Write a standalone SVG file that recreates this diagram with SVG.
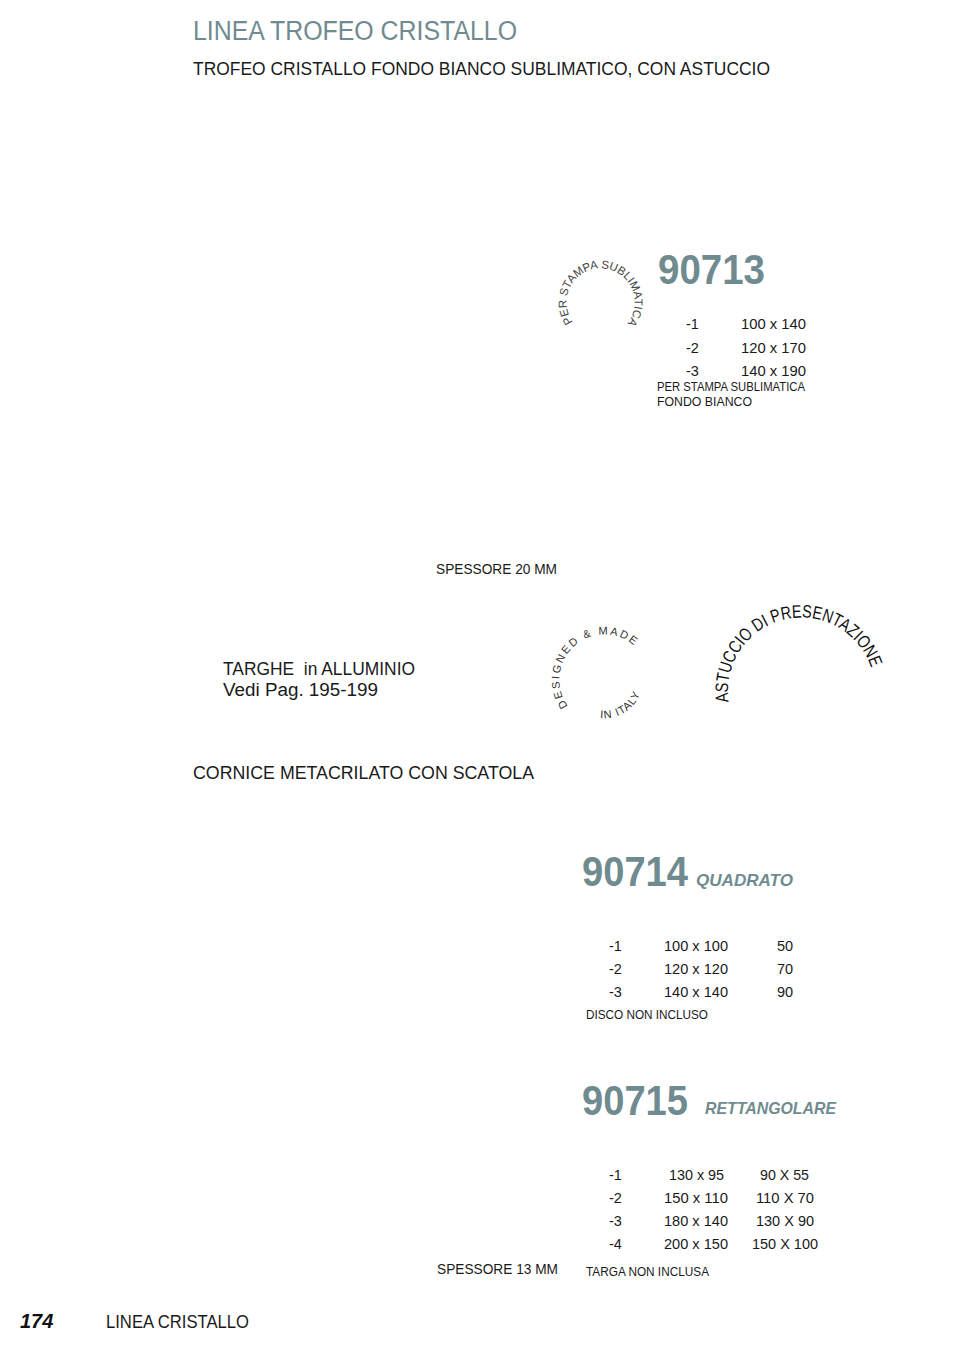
<svg xmlns="http://www.w3.org/2000/svg" width="970" height="1350" viewBox="0 0 970 1350">
<style>
text{font-family:"Liberation Sans","DejaVu Sans",sans-serif;fill:#1a1a1a}
.title{font-size:27px;fill:#6f8b91}
.sub{font-size:18px}
.code{font-size:43px;font-weight:bold;fill:#6f8b90}
.kind{font-size:17px;font-weight:bold;font-style:italic;fill:#6f8b90}
.row{font-size:14.5px}
.note{font-size:12px}
.arc{font-size:11.5px;fill:#444}
.big{font-size:18px}
</style>
<defs>
<path id="p1" d="M 572.8,322 A 34 34 0 1 1 613,334"/>
<path id="p2" d="M 568,706 A 38 38 0 1 1 641,653"/>
<path id="p3" d="M 600,718 A 38 38 0 0 0 640,694"/>
<path id="p4" d="M 728.7,702 A 72 72 0 1 1 874,680"/>
</defs>
<rect width="970" height="1350" fill="#fff"/>
<g id="header">
<text class="title" x="193" y="40" textLength="324" lengthAdjust="spacingAndGlyphs">LINEA TROFEO CRISTALLO</text>
<text class="sub" x="193" y="75" textLength="577" lengthAdjust="spacingAndGlyphs">TROFEO CRISTALLO FONDO BIANCO SUBLIMATICO, CON ASTUCCIO</text>
</g>
<g id="p90713">
<text class="arc"><textPath href="#p1" textLength="150" lengthAdjust="spacingAndGlyphs">PER STAMPA SUBLIMATICA</textPath></text>
<text class="code" x="658" y="284" textLength="107" lengthAdjust="spacingAndGlyphs">90713</text>
<text class="row" x="686" y="329">-1</text><text class="row" x="741" y="329" textLength="65" lengthAdjust="spacingAndGlyphs">100 x 140</text>
<text class="row" x="686" y="353">-2</text><text class="row" x="741" y="353" textLength="65" lengthAdjust="spacingAndGlyphs">120 x 170</text>
<text class="row" x="686" y="376">-3</text><text class="row" x="741" y="376" textLength="65" lengthAdjust="spacingAndGlyphs">140 x 190</text>
<text class="note" x="657" y="391" textLength="148" lengthAdjust="spacingAndGlyphs">PER STAMPA SUBLIMATICA</text>
<text class="note" x="657" y="406" textLength="95" lengthAdjust="spacingAndGlyphs">FONDO BIANCO</text>
<text class="row" x="436" y="574" textLength="121" lengthAdjust="spacingAndGlyphs">SPESSORE 20 MM</text>
</g>
<g id="targhe">
<text class="big" x="223" y="675" textLength="192" lengthAdjust="spacingAndGlyphs" xml:space="preserve">TARGHE  in ALLUMINIO</text>
<text class="big" x="223" y="696" textLength="155" lengthAdjust="spacingAndGlyphs">Vedi Pag. 195-199</text>
</g>
<g id="stamps">
<text style="font-size:11px;letter-spacing:2px;fill:#333"><textPath href="#p2">DESIGNED &amp; MADE</textPath></text>
<text style="font-size:11px;letter-spacing:1px;fill:#333"><textPath href="#p3">IN ITALY</textPath></text>
<text style="font-size:18px;fill:#111"><textPath href="#p4" textLength="218" lengthAdjust="spacingAndGlyphs">ASTUCCIO DI PRESENTAZIONE</textPath></text>
</g>
<g id="p90714">
<text class="big" x="193" y="779" textLength="341" lengthAdjust="spacingAndGlyphs">CORNICE METACRILATO CON SCATOLA</text>
<text class="code" x="582" y="886" textLength="106" lengthAdjust="spacingAndGlyphs">90714</text>
<text class="kind" x="696" y="886" textLength="97" lengthAdjust="spacingAndGlyphs">QUADRATO</text>
<text class="row" x="609" y="951">-1</text><text class="row" x="664" y="951" textLength="64" lengthAdjust="spacingAndGlyphs">100 x 100</text><text class="row" x="777" y="951">50</text>
<text class="row" x="609" y="974">-2</text><text class="row" x="664" y="974" textLength="64" lengthAdjust="spacingAndGlyphs">120 x 120</text><text class="row" x="777" y="974">70</text>
<text class="row" x="609" y="997">-3</text><text class="row" x="664" y="997" textLength="64" lengthAdjust="spacingAndGlyphs">140 x 140</text><text class="row" x="777" y="997">90</text>
<text class="note" x="586" y="1019" textLength="122" lengthAdjust="spacingAndGlyphs">DISCO NON INCLUSO</text>
</g>
<g id="p90715">
<text class="code" x="582" y="1115" textLength="106" lengthAdjust="spacingAndGlyphs">90715</text>
<text class="kind" x="705" y="1114" textLength="131" lengthAdjust="spacingAndGlyphs">RETTANGOLARE</text>
<text class="row" x="609" y="1180">-1</text><text class="row" x="669" y="1180" textLength="55" lengthAdjust="spacingAndGlyphs">130 x 95</text><text class="row" x="760" y="1180" textLength="49" lengthAdjust="spacingAndGlyphs">90 X 55</text>
<text class="row" x="609" y="1203">-2</text><text class="row" x="664" y="1203" textLength="64" lengthAdjust="spacingAndGlyphs">150 x 110</text><text class="row" x="756" y="1203" textLength="58" lengthAdjust="spacingAndGlyphs">110 X 70</text>
<text class="row" x="609" y="1226">-3</text><text class="row" x="664" y="1226" textLength="64" lengthAdjust="spacingAndGlyphs">180 x 140</text><text class="row" x="756" y="1226" textLength="58" lengthAdjust="spacingAndGlyphs">130 X 90</text>
<text class="row" x="609" y="1249">-4</text><text class="row" x="664" y="1249" textLength="64" lengthAdjust="spacingAndGlyphs">200 x 150</text><text class="row" x="752" y="1249" textLength="66" lengthAdjust="spacingAndGlyphs">150 X 100</text>
<text class="row" x="437" y="1274" textLength="121" lengthAdjust="spacingAndGlyphs">SPESSORE 13 MM</text>
<text class="note" x="586" y="1276" textLength="123" lengthAdjust="spacingAndGlyphs">TARGA NON INCLUSA</text>
</g>
<g id="footer">
<text x="20" y="1328" style="font-size:20px;font-weight:bold;font-style:italic;fill:#111">174</text>
<text class="big" x="106" y="1328" textLength="143" lengthAdjust="spacingAndGlyphs">LINEA CRISTALLO</text>
</g>
</svg>
